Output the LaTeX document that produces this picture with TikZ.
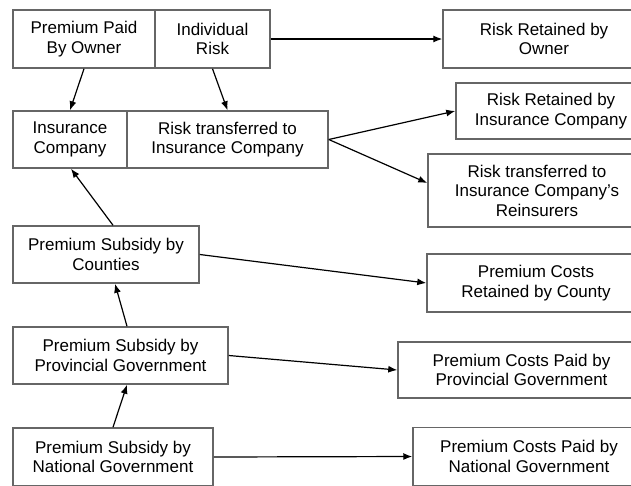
\documentclass[tikz,border=0pt]{standalone}
\usepackage{fontspec}
\setmainfont{Liberation Sans}
\usetikzlibrary{positioning,arrows.meta}

\tikzset{
  blk/.style={draw=black!60, line width=1.5pt, align=center, inner sep=0pt,
    font=\fontsize{17}{19.5}\selectfont},
  link/.style={-{Latex[length=9pt,width=7pt]}, line width=1.2pt}
}

\begin{document}
\begin{tikzpicture}[x=1pt,y=-1pt]
		\useasboundingbox (0,0) rectangle (631,485);
		\clip (0,0) rectangle (631,485);

		% Owner row
		\node[blk, minimum width=142pt, minimum height=58pt] (paid) at (84,39) {Premium Paid\\By Owner};
		\node[blk, minimum width=115pt, minimum height=58pt] (indrisk) at (212.5,39) {Individual\\Risk};
		\node[blk, minimum width=202pt, minimum height=58pt] (ownkeep) at (544,39) {Risk Retained by\\Owner};

		% Insurance company row
		\node[blk, minimum width=114pt, minimum height=57pt] (insco) at (70,139.5) {Insurance\\Company};
		\node[blk, minimum width=201pt, minimum height=57pt] (transfer) at (227.5,139.5) {Risk transferred to\\Insurance Company};
		\node[blk, minimum width=190pt, minimum height=56pt] (cokeep) at (551,111) {Risk Retained by\\Insurance Company};
		\node[blk, minimum width=218pt, minimum height=73pt] (reins) at (537,190.5) {Risk transferred to\\Insurance Company's\\Reinsurers};

		% Subsidies
		\node[blk, minimum width=186pt, minimum height=57pt] (county) at (106,254.5) {Premium Subsidy by\\Counties};
		\node[blk, minimum width=215pt, minimum height=57pt] (prov) at (120.5,355.5) {Premium Subsidy by\\Provincial Government};
		\node[blk, minimum width=200pt, minimum height=58pt] (natl) at (113,457) {Premium Subsidy by\\National Government};

		% Costs
		\node[blk, minimum width=218pt, minimum height=58pt] (ccounty) at (536,283) {Premium Costs\\Retained by County};
		\node[blk, minimum width=247pt, minimum height=56pt] (cprov) at (521.5,370) {Premium Costs Paid by\\Provincial Government};
		\node[blk, minimum width=232pt, minimum height=58pt] (cnatl) at (529,456.5) {Premium Costs Paid by\\National Government};

		% Flows
		\draw[link] (paid.south) -- (insco.north);
		\draw[link] (indrisk.south) -- (transfer.north);
		\draw[link] (indrisk.east) -- (ownkeep.west);
		\draw[link] (transfer.east) -- (cokeep.west);
		\draw[link] (transfer.east) -- ([yshift=7.5pt]reins.west);
		\draw[link] ([xshift=7pt]county.north) -- ([xshift=1pt]insco.south);
		\draw[link] ([xshift=6.5pt]prov.north) -- ([xshift=9pt]county.south);
		\draw[link] (natl.north) -- ([xshift=6.5pt]prov.south);
		\draw[link] (county.east) -- (ccounty.west);
		\draw[link] (prov.east) -- (cprov.west);
		\draw[link] (natl.east) -- (cnatl.west);
	\end{tikzpicture}
\end{document}
